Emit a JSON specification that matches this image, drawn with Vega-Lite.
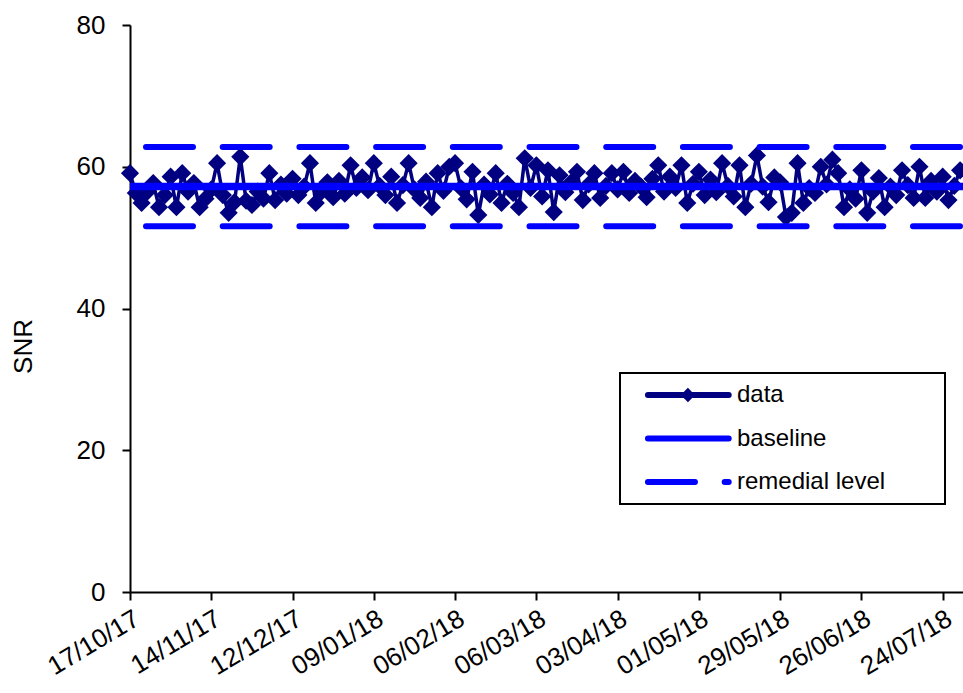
{
  "$schema": "https://vega.github.io/schema/vega-lite/v6.json",
  "width": 833,
  "height": 567,
  "autosize": {"type": "none"},
  "padding": {"left": 130, "top": 25, "right": 0, "bottom": 101},
  "background": "white",
  "config": {
    "view": {"stroke": null},
    "font": "Liberation Sans",
    "axis": {"grid": false, "domainColor": "black", "tickColor": "black", "domainWidth": 2, "tickWidth": 2, "tickSize": 8, "labelColor": "black", "labelFont": "Liberation Sans", "titleFont": "Liberation Sans"},
    "legend": {"labelFont": "Liberation Sans"}
  },
  "datasets": {
    "snr": [
      {"date": "2017-10-17", "snr": 59.1}, {"date": "2017-10-19", "snr": 56.3}, {"date": "2017-10-21", "snr": 54.9}, {"date": "2017-10-23", "snr": 56.5},
      {"date": "2017-10-25", "snr": 57.7}, {"date": "2017-10-27", "snr": 54.3}, {"date": "2017-10-29", "snr": 56.0}, {"date": "2017-10-31", "snr": 58.6},
      {"date": "2017-11-02", "snr": 54.3}, {"date": "2017-11-04", "snr": 59.1}, {"date": "2017-11-06", "snr": 56.5}, {"date": "2017-11-08", "snr": 57.7},
      {"date": "2017-11-10", "snr": 54.3}, {"date": "2017-11-12", "snr": 55.5}, {"date": "2017-11-14", "snr": 56.8}, {"date": "2017-11-16", "snr": 60.5},
      {"date": "2017-11-18", "snr": 56.0}, {"date": "2017-11-20", "snr": 53.5}, {"date": "2017-11-22", "snr": 55.0}, {"date": "2017-11-24", "snr": 61.4},
      {"date": "2017-11-26", "snr": 55.2}, {"date": "2017-11-28", "snr": 54.6}, {"date": "2017-11-30", "snr": 56.5}, {"date": "2017-12-02", "snr": 55.5},
      {"date": "2017-12-04", "snr": 59.1}, {"date": "2017-12-06", "snr": 55.3}, {"date": "2017-12-08", "snr": 57.5}, {"date": "2017-12-10", "snr": 56.2},
      {"date": "2017-12-12", "snr": 58.3}, {"date": "2017-12-14", "snr": 56.0}, {"date": "2017-12-16", "snr": 57.2}, {"date": "2017-12-18", "snr": 60.5},
      {"date": "2017-12-20", "snr": 54.9}, {"date": "2017-12-22", "snr": 56.5}, {"date": "2017-12-24", "snr": 57.8}, {"date": "2017-12-26", "snr": 55.7},
      {"date": "2017-12-28", "snr": 58.0}, {"date": "2017-12-30", "snr": 56.2}, {"date": "2018-01-01", "snr": 60.2}, {"date": "2018-01-03", "snr": 57.0},
      {"date": "2018-01-05", "snr": 58.5}, {"date": "2018-01-07", "snr": 56.7}, {"date": "2018-01-09", "snr": 60.5}, {"date": "2018-01-11", "snr": 57.3},
      {"date": "2018-01-13", "snr": 56.0}, {"date": "2018-01-15", "snr": 58.6}, {"date": "2018-01-17", "snr": 54.9}, {"date": "2018-01-19", "snr": 57.4},
      {"date": "2018-01-21", "snr": 60.5}, {"date": "2018-01-23", "snr": 56.8}, {"date": "2018-01-25", "snr": 55.6}, {"date": "2018-01-27", "snr": 57.9},
      {"date": "2018-01-29", "snr": 54.3}, {"date": "2018-01-31", "snr": 59.1}, {"date": "2018-02-02", "snr": 56.6}, {"date": "2018-02-04", "snr": 60.0},
      {"date": "2018-02-06", "snr": 60.5}, {"date": "2018-02-08", "snr": 57.0}, {"date": "2018-02-10", "snr": 55.4}, {"date": "2018-02-12", "snr": 59.3},
      {"date": "2018-02-14", "snr": 53.2}, {"date": "2018-02-16", "snr": 57.5}, {"date": "2018-02-18", "snr": 56.1}, {"date": "2018-02-20", "snr": 59.1},
      {"date": "2018-02-22", "snr": 54.9}, {"date": "2018-02-24", "snr": 57.6}, {"date": "2018-02-26", "snr": 56.3}, {"date": "2018-02-28", "snr": 54.3},
      {"date": "2018-03-02", "snr": 61.2}, {"date": "2018-03-04", "snr": 57.0}, {"date": "2018-03-06", "snr": 60.2}, {"date": "2018-03-08", "snr": 55.8},
      {"date": "2018-03-10", "snr": 59.5}, {"date": "2018-03-12", "snr": 53.6}, {"date": "2018-03-14", "snr": 58.8}, {"date": "2018-03-16", "snr": 56.4},
      {"date": "2018-03-18", "snr": 57.8}, {"date": "2018-03-20", "snr": 59.3}, {"date": "2018-03-22", "snr": 55.3}, {"date": "2018-03-24", "snr": 57.5},
      {"date": "2018-03-26", "snr": 59.1}, {"date": "2018-03-28", "snr": 55.6}, {"date": "2018-03-30", "snr": 57.3}, {"date": "2018-04-01", "snr": 59.1},
      {"date": "2018-04-03", "snr": 56.8}, {"date": "2018-04-05", "snr": 59.3}, {"date": "2018-04-07", "snr": 56.3}, {"date": "2018-04-09", "snr": 58.0},
      {"date": "2018-04-11", "snr": 57.2}, {"date": "2018-04-13", "snr": 55.7}, {"date": "2018-04-15", "snr": 58.3}, {"date": "2018-04-17", "snr": 60.2},
      {"date": "2018-04-19", "snr": 56.5}, {"date": "2018-04-21", "snr": 58.6}, {"date": "2018-04-23", "snr": 57.0}, {"date": "2018-04-25", "snr": 60.2},
      {"date": "2018-04-27", "snr": 54.9}, {"date": "2018-04-29", "snr": 57.6}, {"date": "2018-05-01", "snr": 59.3}, {"date": "2018-05-03", "snr": 56.0},
      {"date": "2018-05-05", "snr": 58.2}, {"date": "2018-05-07", "snr": 56.4}, {"date": "2018-05-09", "snr": 60.5}, {"date": "2018-05-11", "snr": 57.3},
      {"date": "2018-05-13", "snr": 55.8}, {"date": "2018-05-15", "snr": 60.2}, {"date": "2018-05-17", "snr": 54.3}, {"date": "2018-05-19", "snr": 57.6},
      {"date": "2018-05-21", "snr": 61.6}, {"date": "2018-05-23", "snr": 57.2}, {"date": "2018-05-25", "snr": 55.0}, {"date": "2018-05-27", "snr": 58.5},
      {"date": "2018-05-29", "snr": 57.8}, {"date": "2018-05-31", "snr": 52.9}, {"date": "2018-06-02", "snr": 53.5}, {"date": "2018-06-04", "snr": 60.5},
      {"date": "2018-06-06", "snr": 54.9}, {"date": "2018-06-08", "snr": 57.0}, {"date": "2018-06-10", "snr": 56.3}, {"date": "2018-06-12", "snr": 60.0},
      {"date": "2018-06-14", "snr": 57.5}, {"date": "2018-06-16", "snr": 61.0}, {"date": "2018-06-18", "snr": 59.1}, {"date": "2018-06-20", "snr": 54.3},
      {"date": "2018-06-22", "snr": 56.8}, {"date": "2018-06-24", "snr": 55.5}, {"date": "2018-06-26", "snr": 59.5}, {"date": "2018-06-28", "snr": 53.5},
      {"date": "2018-06-30", "snr": 56.5}, {"date": "2018-07-02", "snr": 58.4}, {"date": "2018-07-04", "snr": 54.3}, {"date": "2018-07-06", "snr": 57.2},
      {"date": "2018-07-08", "snr": 56.0}, {"date": "2018-07-10", "snr": 59.5}, {"date": "2018-07-12", "snr": 57.4}, {"date": "2018-07-14", "snr": 55.6},
      {"date": "2018-07-16", "snr": 60.0}, {"date": "2018-07-18", "snr": 55.6}, {"date": "2018-07-20", "snr": 58.0}, {"date": "2018-07-22", "snr": 56.5},
      {"date": "2018-07-24", "snr": 58.6}, {"date": "2018-07-26", "snr": 55.3}, {"date": "2018-07-28", "snr": 57.3}, {"date": "2018-07-30", "snr": 59.5}
    ],
    "levels": [
      {"series": "baseline", "line": "baseline", "level": 57.2},
      {"series": "remedial level", "line": "upper", "level": 62.8},
      {"series": "remedial level", "line": "lower", "level": 51.6}
    ]
  },
  "encoding": {
    "x": {
      "field": "date", "type": "temporal",
      "scale": {"type": "utc", "domain": [{"year": 2017, "month": 10, "date": 17, "utc": true}, {"year": 2018, "month": 7, "date": 31, "utc": true}]},
      "axis": {
        "title": null, "format": "%d/%m/%y", "labelAngle": -31, "labelAlign": "right", "labelBaseline": "top",
        "labelFontSize": 26, "labelPadding": 5, "labelDx": -5, "labelOverlap": false, "labelBound": false, "labelFlush": false,
        "values": [
          {"year": 2017, "month": 10, "date": 17, "utc": true}, {"year": 2017, "month": 11, "date": 14, "utc": true},
          {"year": 2017, "month": 12, "date": 12, "utc": true}, {"year": 2018, "month": 1, "date": 9, "utc": true},
          {"year": 2018, "month": 2, "date": 6, "utc": true}, {"year": 2018, "month": 3, "date": 6, "utc": true},
          {"year": 2018, "month": 4, "date": 3, "utc": true}, {"year": 2018, "month": 5, "date": 1, "utc": true},
          {"year": 2018, "month": 5, "date": 29, "utc": true}, {"year": 2018, "month": 6, "date": 26, "utc": true},
          {"year": 2018, "month": 7, "date": 24, "utc": true}
        ]
      }
    },
    "y": {
      "field": "snr", "type": "quantitative",
      "scale": {"domain": [0, 80], "nice": false, "zero": true},
      "axis": {
        "title": "SNR", "titleFontSize": 26, "titleFontWeight": "normal", "titleColor": "black",
        "titleX": -107, "titleY": 321, "titleAngle": -90, "titleAlign": "center", "titleBaseline": "middle",
        "values": [0, 20, 40, 60, 80], "labelFontSize": 26, "labelPadding": 17
      }
    }
  },
  "layer": [
    {
      "data": {"name": "snr"},
      "mark": {"type": "line", "strokeWidth": 3.5, "strokeJoin": "round"},
      "encoding": {
        "color": {"datum": "data", "type": "nominal",
          "scale": {"domain": ["data", "baseline", "remedial level"], "range": ["#000080", "#0000FF", "#0000FF"]},
          "legend": {"title": "\u00a0", "orient": "none", "legendX": 490, "legendY": 348}},
        "strokeDash": {"datum": "data", "type": "nominal",
          "scale": {"domain": ["data", "baseline", "remedial level"], "range": [[1, 0], [1, 0], [47, 29.7]]},
          "legend": {"title": "\u00a0", "orient": "none", "legendX": 490, "legendY": 348}}
      }
    },
    {
      "data": {"name": "snr"},
      "mark": {"type": "point", "shape": "diamond", "filled": true, "size": 330, "color": "#000080", "opacity": 1}
    },
    {
      "data": {"name": "levels"},
      "transform": [{"filter": "datum.series === 'baseline'"}],
      "mark": {"type": "rule", "strokeWidth": 7.5},
      "encoding": {
        "x": null,
        "y": {"field": "level", "type": "quantitative"},
        "detail": {"field": "line", "type": "nominal"},
        "color": {"field": "series", "type": "nominal"},
        "strokeDash": {"field": "series", "type": "nominal"}
      }
    },
    {
      "data": {"name": "levels"},
      "transform": [{"filter": "datum.series === 'remedial level'"}],
      "mark": {"type": "rule", "strokeWidth": 6, "strokeCap": "round", "strokeDashOffset": -3},
      "encoding": {
        "x": null,
        "y": {"field": "level", "type": "quantitative"},
        "detail": {"field": "line", "type": "nominal"},
        "color": {"field": "series", "type": "nominal",
          "legend": {
            "title": "\u00a0", "titleOrient": "right", "titlePadding": 50, "titleFontSize": 10,
            "orient": "none", "legendX": 490, "legendY": 348,
            "symbolType": "M0.7,0H10.2", "symbolSize": 289, "symbolStrokeWidth": 6,
            "labelFontSize": 24, "labelOffset": 83, "labelColor": "black", "labelLimit": 500,
            "rowPadding": 16.5, "padding": 10, "gridAlign": "all", "strokeColor": "black", "fillColor": "white",
            "encode": {
              "symbols": {"update": {
                "shape": {"signal": "datum.label === 'data' ? 'M0.7,0H10.2M5.05,0L5.4,-0.35L5.75,0L5.4,0.35Z' : 'M0.7,0H10.2'"},
                "strokeCap": {"value": "round"}
              }},
              "legend": {"update": {"strokeWidth": {"value": 2}}}
            }
          }},
        "strokeDash": {"field": "series", "type": "nominal",
          "legend": {"title": "\u00a0", "orient": "none", "legendX": 490, "legendY": 348}}
      }
    }
  ]
}
